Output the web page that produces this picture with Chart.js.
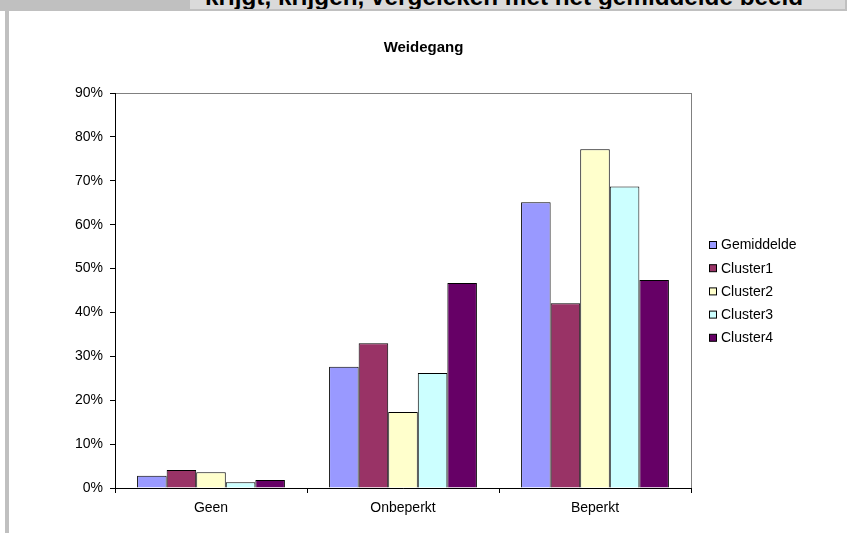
<!DOCTYPE html>
<html>
<head>
<meta charset="utf-8">
<script src="https://cdn.jsdelivr.net/npm/chart.js@4"></script>
<style>
  body { margin: 0; background: #fff; }
  #pagina { position: relative; width: 847px; height: 533px; overflow: hidden; background: #fff; }
  #band { position: absolute; left: 0; top: 0; width: 847px; height: 11px; background: #c0c0c0; }
  #kop { position: absolute; left: 190px; top: 0; width: 655px; height: 9px; background: #dadada; overflow: hidden; }
  #kop span { position: absolute; left: 15px; top: -17px; line-height: 24px; font: bold 24.3px "Liberation Sans", Arial, sans-serif; white-space: nowrap; color: #000; }
  #balk { position: absolute; left: 5px; top: 0; width: 4px; height: 533px; background: #c0c0c0; }
  #grafiek { position: absolute; left: 0; top: 0; }
</style>
</head>
<body>
<div id="pagina">
  <div id="band"></div>
  <div id="kop"><span>krijgt, krijgen, vergeleken met het gemiddelde beeld</span></div>
  <div id="balk"></div>
  <canvas id="grafiek" width="847" height="533"></canvas>
</div>
<script>
// dados do gráfico
const categorieen = ['Geen', 'Onbeperkt', 'Beperkt'];
const gemiddelde = [2.8, 27.6, 65.1];
const cluster1 = [4.1, 33.0, 42.1];
const cluster2 = [3.6, 17.3, 77.2];
const cluster3 = [1.3, 26.2, 68.7];
const cluster4 = [1.8, 46.7, 47.4];
const yTicks = [0, 10, 20, 30, 40, 50, 60, 70, 80, 90];

const series = [
  { label: 'Gemiddelde', data: gemiddelde, color: '#9999ff' },
  { label: 'Cluster1', data: cluster1, color: '#993366' },
  { label: 'Cluster2', data: cluster2, color: '#ffffcc' },
  { label: 'Cluster3', data: cluster3, color: '#ccffff' },
  { label: 'Cluster4', data: cluster4, color: '#660066' }
];

const fonte = '"Liberation Sans", Arial, sans-serif';

// moldura cinza do plot (topo e direita)
const moldura = {
  id: 'moldura',
  beforeDraw(chart) {
    const a = chart.chartArea, ctx = chart.ctx;
    ctx.save();
    ctx.strokeStyle = '#808080';
    ctx.lineWidth = 1;
    ctx.strokeRect(a.left + 0.5, a.top + 0.5, a.right - a.left, a.bottom - a.top);
    ctx.restore();
  }
};

// legenda desenhada na posição fixa
const legenda = {
  id: 'legenda',
  afterDraw(chart) {
    const ctx = chart.ctx;
    ctx.save();
    ctx.font = '14px ' + fonte;
    ctx.textBaseline = 'middle';
    chart.data.datasets.forEach((ds, i) => {
      const y = 245 + i * 23.2;
      ctx.fillStyle = ds.backgroundColor;
      ctx.fillRect(709.5, y - 3.5, 7, 7);
      ctx.strokeStyle = '#000';
      ctx.lineWidth = 1;
      ctx.strokeRect(709.5, y - 3.5, 7, 7);
      ctx.fillStyle = '#000';
      ctx.fillText(ds.label, 721, y + 0.5);
    });
    ctx.restore();
  }
};

new Chart(document.getElementById('grafiek'), {
  type: 'bar',
  data: {
    labels: categorieen,
    datasets: series.map(s => ({
      label: s.label,
      data: s.data,
      backgroundColor: s.color,
      borderColor: '#000',
      borderWidth: 1,
      categoryPercentage: 0.77,
      barPercentage: 1
    }))
  },
  options: {
    responsive: false,
    animation: false,
    layout: { padding: 0 },
    plugins: {
      legend: { display: false },
      tooltip: { enabled: false },
      title: {
        display: true,
        text: 'Weidegang',
        color: '#000',
        font: { family: fonte, size: 15, weight: 'bold', lineHeight: 1.2 },
        padding: { top: 39, bottom: 36 }
      }
    },
    scales: {
      x: {
        afterFit: s => { s.height = 45; },
        grid: { display: true, offset: true, drawOnChartArea: false, drawTicks: true, tickLength: 5, color: '#000' },
        border: { display: true, color: '#000' },
        ticks: { color: '#000', font: { family: fonte, size: 14 }, padding: 7 }
      },
      y: {
        min: 0,
        max: 90,
        afterFit: s => { s.width = 115; },
        afterBuildTicks: s => { s.ticks = yTicks.map(v => ({ value: v })); },
        grid: { display: true, drawOnChartArea: false, drawTicks: true, tickLength: 5, color: '#000' },
        border: { display: true, color: '#000' },
        ticks: { color: '#000', font: { family: fonte, size: 14 }, padding: 7, callback: v => v + '%' }
      },
      // eixo vazio à direita, só reserva espaço para a legenda
      ruimte: {
        position: 'right',
        afterFit: s => { s.width = 156; },
        grid: { display: false },
        border: { display: false },
        ticks: { display: false }
      }
    }
  },
  plugins: [moldura, legenda]
});
</script>
</body>
</html>
